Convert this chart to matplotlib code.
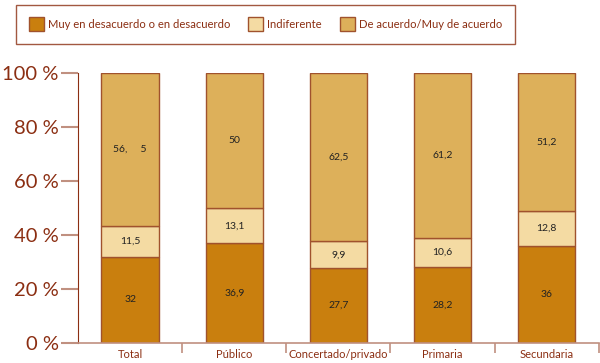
import matplotlib.pyplot as plt
import numpy as np

plt.rcParams['font.family'] = ['Lato', 'DejaVu Sans']

categorias = ['Total', 'Público', 'Concertado/privado', 'Primaria', 'Secundaria']
desacuerdo = [32, 36.9, 27.7, 28.2, 36]
indiferente = [11.5, 13.1, 9.9, 10.6, 12.8]
acuerdo = [56.5, 50, 62.5, 61.2, 51.2]
etq_desacuerdo = ['32', '36,9', '27,7', '28,2', '36']
etq_indiferente = ['11,5', '13,1', '9,9', '10,6', '12,8']
etq_acuerdo = ['56,     5', '50', '62,5', '61,2', '51,2']
series = ['Muy en desacuerdo o en desacuerdo', 'Indiferente', 'De acuerdo/Muy de acuerdo']

colores = ['#C97F0E', '#F4DBA3', '#DDB05A']
borde = '#A0522D'
marron = '#8B2E12'

fig = plt.figure(figsize=(6, 3.63), dpi=100)
ax = fig.add_axes([0.13, 0.055, 0.868, 0.744])

x = np.arange(len(categorias))
w = 0.55
b1 = ax.bar(x, desacuerdo, w, color=colores[0], edgecolor=borde, linewidth=1, label=series[0])
bottom2 = np.array(desacuerdo)
b2 = ax.bar(x, indiferente, w, bottom=bottom2, color=colores[1], edgecolor=borde, linewidth=1, label=series[1])
bottom3 = bottom2 + np.array(indiferente)
b3 = ax.bar(x, acuerdo, w, bottom=bottom3, color=colores[2], edgecolor=borde, linewidth=1, label=series[2])

for i in x:
    ax.text(i, desacuerdo[i] / 2, etq_desacuerdo[i], ha='center', va='center', fontsize=7.5, color='#222222')
    ax.text(i, bottom2[i] + indiferente[i] / 2, etq_indiferente[i], ha='center', va='center', fontsize=7.5, color='#222222')
    ax.text(i, bottom3[i] + acuerdo[i] / 2, etq_acuerdo[i], ha='center', va='center', fontsize=7.5, color='#222222')

ax.set_xlim(-0.5, len(categorias) - 0.5)
ax.set_ylim(0, 100)
ax.set_yticks(range(0, 101, 20))
ax.set_yticklabels([f'{v} %' for v in range(0, 101, 20)], fontsize=14.5, color=marron)
ax.set_xticks(x)
ax.set_xticklabels(categorias, fontsize=8, color=marron)
ax.set_xticks(np.arange(0.5, len(categorias), 1), minor=True)
ax.tick_params(axis='x', which='major', length=0, pad=4)
ax.tick_params(axis='x', which='minor', length=7, color='#C09080', width=1.2)
ax.tick_params(axis='y', length=12, color='#C09080', width=1.5, pad=2)

for s in ['top', 'right']:
    ax.spines[s].set_visible(False)
ax.spines['left'].set_color(marron)
ax.spines['bottom'].set_color('#C09080')
ax.spines['bottom'].set_bounds(-0.63, len(categorias) - 0.5)
ax.spines['bottom'].set_linewidth(1.2)

leg = fig.legend(handles=[b1, b2, b3], loc='upper left', bbox_to_anchor=(0.027, 0.986),
                 borderaxespad=0, ncol=3, frameon=True, fancybox=False, fontsize=8.1,
                 handlelength=1.35, handleheight=1.5, columnspacing=1.6, handletextpad=0.35,
                 borderpad=1.1)
leg.get_frame().set_edgecolor(marron)
leg.get_frame().set_linewidth(1)
for t in leg.get_texts():
    t.set_color(marron)

fig.savefig('out.png', dpi=100)
